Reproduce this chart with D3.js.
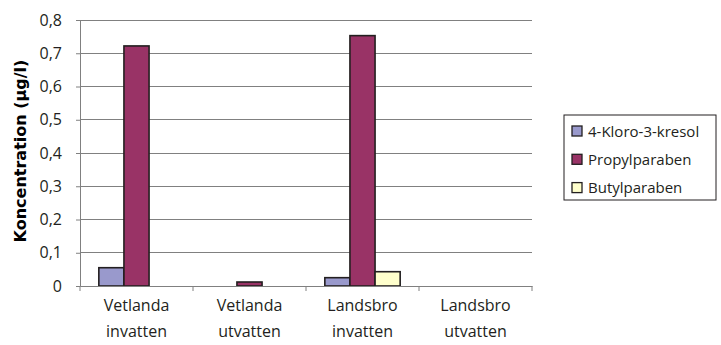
<!DOCTYPE html>
<html>
<head>
<meta charset="utf-8">
<script src="https://cdn.jsdelivr.net/npm/d3@7"></script>
<style>
  html, body { margin: 0; padding: 0; background: #fff; }
  svg { display: block; font-family: "Open Sans", "Noto Sans", sans-serif; }
</style>
</head>
<body>
<svg id="chart" width="721" height="345"></svg>
<script>
// Sampling sites (two-line labels)
const categories = ["Vetlanda invatten", "Vetlanda utvatten", "Landsbro invatten", "Landsbro utvatten"];
const categoryLines = [["Vetlanda", "invatten"], ["Vetlanda", "utvatten"], ["Landsbro", "invatten"], ["Landsbro", "utvatten"]];

// Substances and measured concentrations (µg/l)
const seriesNames = ["4-Kloro-3-kresol", "Propylparaben", "Butylparaben"];
const kloroKresol = [0.055, 0, 0.025, 0];
const propylparaben = [0.722, 0.012, 0.753, 0];
const butylparaben = [0, 0, 0.043, 0];
const seriesValues = [kloroKresol, propylparaben, butylparaben];
const seriesColors = ["#9999CC", "#993366", "#FFFFCC"];

const yTicks = [0, 0.1, 0.2, 0.3, 0.4, 0.5, 0.6, 0.7, 0.8];

const svg = d3.select("#chart");
const plot = { left: 80, right: 532, top: 20, bottom: 286 };
const ink = "#231F20";

const x0 = d3.scaleBand().domain(categories).range([plot.left, plot.right]);
const x1 = d3.scaleBand().domain(seriesNames)
  .range([0, x0.bandwidth()]).paddingOuter(0.75).paddingInner(0);
const y = d3.scaleLinear().domain([0, 0.8]).range([plot.bottom, plot.top]);

const fmt = v => v === 0 ? "0" : d3.format(".1f")(v).replace(".", ",");

// Horizontal gridlines
svg.append("g")
  .selectAll("line")
  .data(yTicks.filter(t => t > 0))
  .join("line")
  .attr("x1", plot.left).attr("x2", plot.right)
  .attr("y1", d => y(d)).attr("y2", d => y(d))
  .attr("stroke", "#808080").attr("stroke-width", 1)
  .attr("shape-rendering", "crispEdges");

// Bars
const rows = [];
categories.forEach((c, i) => {
  seriesNames.forEach((s, j) => {
    rows.push({ cat: c, series: s, value: seriesValues[j][i], color: seriesColors[j] });
  });
});
svg.append("g")
  .selectAll("rect")
  .data(rows.filter(d => d.value > 0))
  .join("rect")
  .attr("x", d => x0(d.cat) + x1(d.series))
  .attr("y", d => y(d.value))
  .attr("width", x1.bandwidth())
  .attr("height", d => y(0) - y(d.value))
  .attr("fill", d => d.color)
  .attr("stroke", ink).attr("stroke-width", 1.6);

// Y axis
const yAxis = svg.append("g")
  .attr("transform", `translate(${plot.left},0)`)
  .call(d3.axisLeft(y).tickValues(yTicks).tickFormat(fmt).tickSize(4).tickPadding(14));
yAxis.select(".domain").attr("stroke", "#808080");
yAxis.selectAll(".tick line").attr("stroke", "#808080");
yAxis.selectAll(".tick text")
  .attr("font-size", 16).attr("fill", ink)
  .attr("font-family", "Open Sans, Noto Sans, sans-serif");

// X axis
const xAxis = svg.append("g")
  .attr("transform", `translate(0,${plot.bottom})`)
  .call(d3.axisBottom(x0).tickValues([]).tickSizeOuter(0));
xAxis.select(".domain").attr("stroke", "#808080");
svg.append("g")
  .selectAll("line")
  .data(d3.range(categories.length + 1))
  .join("line")
  .attr("x1", i => plot.left + i * x0.step())
  .attr("x2", i => plot.left + i * x0.step())
  .attr("y1", plot.bottom).attr("y2", plot.bottom + 5)
  .attr("stroke", "#808080");

// Category labels (two lines)
const labels = svg.append("g")
  .selectAll("text")
  .data(categories)
  .join("text")
  .attr("text-anchor", "middle")
  .attr("font-size", 16)
  .attr("fill", ink)
  .attr("transform", d => `translate(${x0(d) + x0.bandwidth() / 2},0)`);
labels.each(function (d, i) {
  const t = d3.select(this);
  categoryLines[i].forEach((line, k) => {
    t.append("tspan").attr("x", 0).attr("y", 311 + k * 26).text(line);
  });
});

// Y axis title
svg.append("text")
  .attr("transform", "translate(26,151) rotate(-90)")
  .attr("text-anchor", "middle")
  .attr("font-family", "DejaVu Sans, sans-serif")
  .attr("font-size", 16)
  .attr("font-weight", "bold")
  .attr("fill", "#000")
  .text("Koncentration (µg/l)");

// Legend
const legend = svg.append("g").attr("transform", "translate(564,115)");
legend.append("rect")
  .attr("width", 152).attr("height", 85)
  .attr("fill", "#fff").attr("stroke", ink).attr("stroke-width", 1);
const items = legend.selectAll("g.item")
  .data(seriesNames)
  .join("g")
  .attr("class", "item")
  .attr("transform", (d, i) => `translate(8,${16 + i * 28.3})`);
items.append("rect")
  .attr("x", 0).attr("y", -5)
  .attr("width", 10).attr("height", 10)
  .attr("fill", (d, i) => seriesColors[i])
  .attr("stroke", ink).attr("stroke-width", 1.3);
items.append("text")
  .attr("x", 16).attr("y", 5.5)
  .attr("font-size", 15)
  .attr("fill", ink)
  .text(d => d);
</script>
</body>
</html>
